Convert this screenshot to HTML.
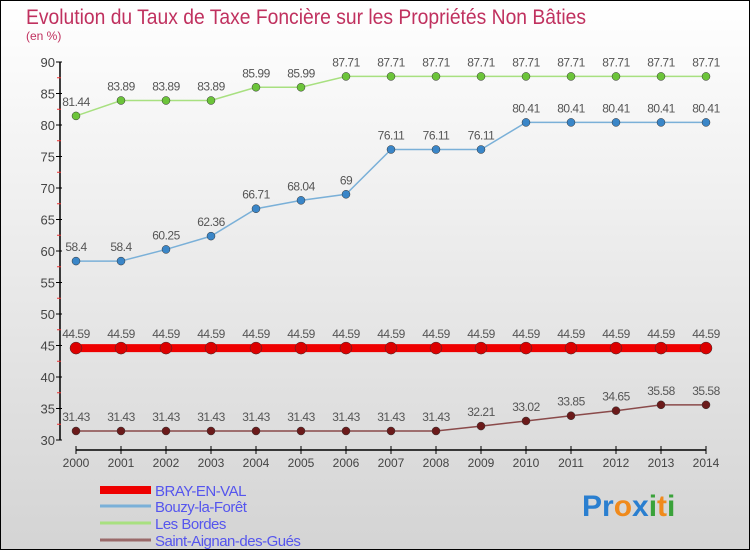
<!DOCTYPE html>
<html><head><meta charset="utf-8"><style>
html,body{margin:0;padding:0}
body{width:750px;height:550px;overflow:hidden}
svg{display:block;font-family:"Liberation Sans",sans-serif}
</style></head><body>
<svg width="750" height="550" id="chart">
<defs><linearGradient id="bg" x1="0" y1="0" x2="0" y2="1"><stop offset="0" stop-color="#ffffff"/><stop offset="1" stop-color="#d4d4d4"/></linearGradient></defs>
<rect x="0.5" y="0.5" width="749" height="549" fill="url(#bg)" stroke="#000"/>
<text x="26" y="24" font-size="21" fill="#c0315f" textLength="560" lengthAdjust="spacingAndGlyphs">Evolution du Taux de Taxe Foncière sur les Propriétés Non Bâties</text>
<text x="26" y="40" font-size="12" fill="#c0315f">(en %)</text>
<g id="axes"></g><g id="series"></g><g id="legend"></g>
<g font-size="30" font-weight="bold">
<text x="582" y="516"><tspan fill="#2a7fd0">Pr</tspan><tspan fill="#f08a1c">o</tspan><tspan fill="#2a7fd0">x</tspan><tspan fill="#3aa23a">i</tspan><tspan fill="#f08a1c">t</tspan><tspan fill="#3aa23a">i</tspan></text>
</g>
</svg>
<script>
const years=[2000,2001,2002,2003,2004,2005,2006,2007,2008,2009,2010,2011,2012,2013,2014];
const yTicks=[30,35,40,45,50,55,60,65,70,75,80,85,90];
const bray=[44.59,44.59,44.59,44.59,44.59,44.59,44.59,44.59,44.59,44.59,44.59,44.59,44.59,44.59,44.59];
const bouzy=[58.4,58.4,60.25,62.36,66.71,68.04,69,76.11,76.11,76.11,80.41,80.41,80.41,80.41,80.41];
const bordes=[81.44,83.89,83.89,83.89,85.99,85.99,87.71,87.71,87.71,87.71,87.71,87.71,87.71,87.71,87.71];
const saint=[31.43,31.43,31.43,31.43,31.43,31.43,31.43,31.43,31.43,32.21,33.02,33.85,34.65,35.58,35.58];
const seriesNames=["BRAY-EN-VAL","Bouzy-la-Forêt","Les Bordes","Saint-Aignan-des-Gués"];
const NS="http://www.w3.org/2000/svg";
const X=i=>76+i*45, Y=v=>440-(v-30)*6.3;
function el(t,a,p){const e=document.createElementNS(NS,t);for(const k in a)e.setAttribute(k,a[k]);p.appendChild(e);return e;}
const ax=document.getElementById('axes');
const yl=el('line',{x1:60,y1:Y(90),x2:60,y2:440,stroke:'#000','stroke-width':1.5},ax);


const xl=el('line',{x1:76,y1:450,x2:706,y2:450,stroke:'#000','stroke-width':1.5},ax);


yTicks.forEach(v=>{
 el('line',{x1:56,y1:Y(v),x2:62,y2:Y(v),stroke:'#000'},ax);
 if(v<90){el('line',{x1:57,y1:Y(v+2.5),x2:61,y2:Y(v+2.5),stroke:'#e33'},ax);}
 const t=el('text',{x:55,y:Y(v)+5,'font-size':13,fill:'#444','text-anchor':'end'},ax);
 
 
 t.textContent=v;
});
years.forEach((y,i)=>{
 el('line',{x1:X(i),y1:446,x2:X(i),y2:454,stroke:'#000'},ax);
 const t=el('text',{x:X(i),y:467,'font-size':12,fill:'#444','text-anchor':'middle'},ax);
 
 
 t.textContent=y;
});
const sg=document.getElementById('series');
function draw(vals,line,dot,w,r,name){
 const g=el('g',{},sg);
 
 
 el('polyline',{points:vals.map((v,i)=>X(i)+','+Y(v)).join(' '),fill:'none',stroke:line,'stroke-width':w},g);
 vals.forEach((v,i)=>{
  const c=el('circle',{cx:X(i),cy:Y(v),r:r,fill:dot,stroke:'#333','stroke-width':0.5},g);
  
  
  const t=el('text',{x:X(i),y:Y(v)-10,'font-size':12,fill:'#555','text-anchor':'middle','letter-spacing':'-0.5'},g);
  
  
  t.textContent=v;
 });
}
draw(saint,'#8a4a4a','#6b1a1a',1.5,4,'saint-aignan-series');
draw(bray,'#ee0000','#dd0000',8,6,'bray-series');
draw(bouzy,'#7ab0d8','#3a86c8',1.5,4,'bouzy-series');
draw(bordes,'#a8e080','#6cc43a',1.5,4,'bordes-series');
const lg=document.getElementById('legend');
const lc=['#ee0000','#7ab0d8','#a8e080','#9a6a6a'],lw=[8,3,3,3],ly=[490,506,523,540];
seriesNames.forEach((n,i)=>{
 const g=el('g',{},lg);
 
 
 el('line',{x1:100,y1:ly[i],x2:151,y2:ly[i],stroke:lc[i],'stroke-width':lw[i]},g);
 const t=el('text',{x:155,y:ly[i]+6,'font-size':15,fill:'#5555ee','letter-spacing':'-0.5'},g);
 t.textContent=n;
});
</script>
</body></html>
